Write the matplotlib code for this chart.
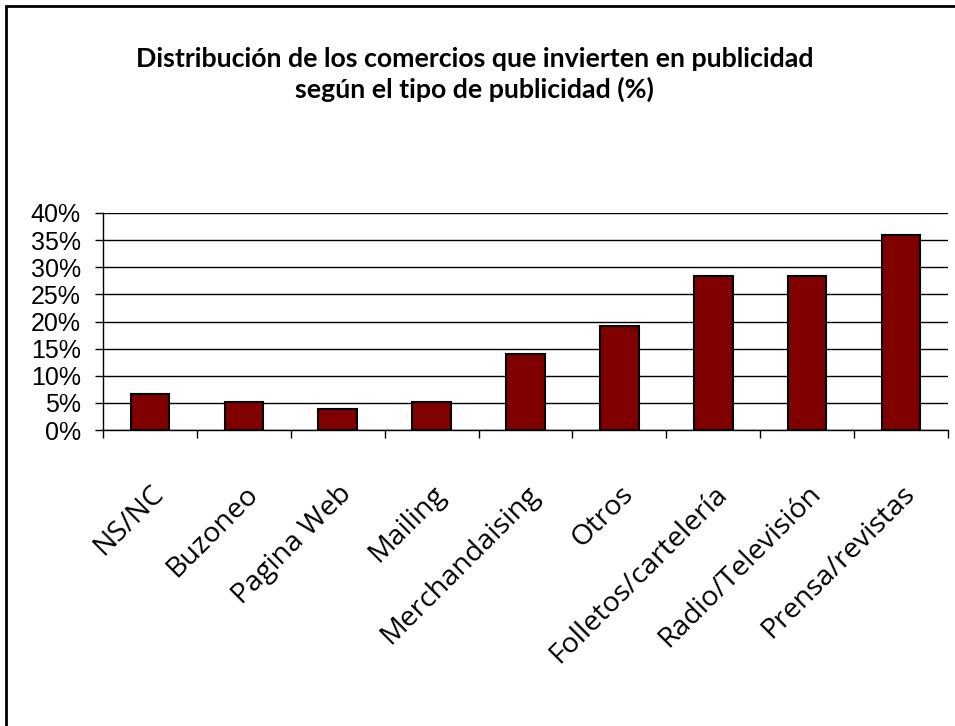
import matplotlib
matplotlib.use('Agg')

import matplotlib.pyplot as plt
import numpy as np
from matplotlib.ticker import MultipleLocator, PercentFormatter

# datos
categorias = ['NS/NC', 'Buzoneo', 'Pagina Web', 'Mailing', 'Merchandaising',
              'Otros', 'Folletos/cartelería', 'Radio/Televisión', 'Prensa/revistas']
porcentajes = [6.6, 5.2, 3.8, 5.2, 14.0, 19.1, 28.4, 28.4, 36.0]

titulo_1 = 'Distribución de los comercios que invierten en publicidad'
titulo_2 = 'según el tipo de publicidad (%)'

fig = plt.figure(figsize=(9.55, 7.26), dpi=100)
fig.patch.set_facecolor('white')

# marco exterior (solo se ven el borde izquierdo y el superior)
fig.add_artist(plt.Rectangle((6 / 955, -0.05), 1.1, 1 - 6 / 726 + 0.05,
                             transform=fig.transFigure, fill=False,
                             edgecolor='black', linewidth=2))

ax = fig.add_axes([103 / 955, 296 / 726, 845 / 955, 217 / 726])

x = np.arange(len(categorias))
ax.bar(x, porcentajes, width=0.41, color='#800000', edgecolor='black',
       linewidth=1.5, zorder=3)

ax.set_xlim(-0.5, len(categorias) - 0.5)
ax.set_ylim(0, 40)
ax.yaxis.set_major_locator(MultipleLocator(5))
ax.yaxis.set_major_formatter(PercentFormatter(decimals=0))
ax.grid(axis='y', color='black', linewidth=1, zorder=0)

# marcas entre categorias, etiquetas en el centro
ax.set_xticks(np.arange(len(categorias) + 1) - 0.5)
ax.set_xticklabels([])
ax.set_xticks(x, minor=True)
ax.set_xticklabels(categorias, minor=True, rotation=45, ha='right',
                   va='top', rotation_mode='anchor')
for lbl in ax.get_xticklabels(minor=True):
    lbl.set_fontfamily(['Open Sans', 'DejaVu Sans'])
    lbl.set_fontsize(20.5)
ax.tick_params(axis='x', which='major', length=6, width=1, direction='out')
ax.tick_params(axis='x', which='minor', length=0, pad=36)
ax.tick_params(axis='y', length=6, width=1, pad=10)
for lbl in ax.get_yticklabels():
    lbl.set_fontfamily('Liberation Sans')
    lbl.set_fontsize(18)

for s in ['top', 'right']:
    ax.spines[s].set_visible(False)
ax.spines['left'].set_linewidth(1)
ax.spines['bottom'].set_linewidth(1)

fig.text(0.497, 1 - 67 / 726, titulo_1, ha='center', va='baseline',
         fontsize=19.3, fontweight='bold', family='Lato')
fig.text(0.497, 1 - 98 / 726, titulo_2, ha='center', va='baseline',
         fontsize=19.3, fontweight='bold', family='Lato')

plt.savefig('out.png', dpi=100)
